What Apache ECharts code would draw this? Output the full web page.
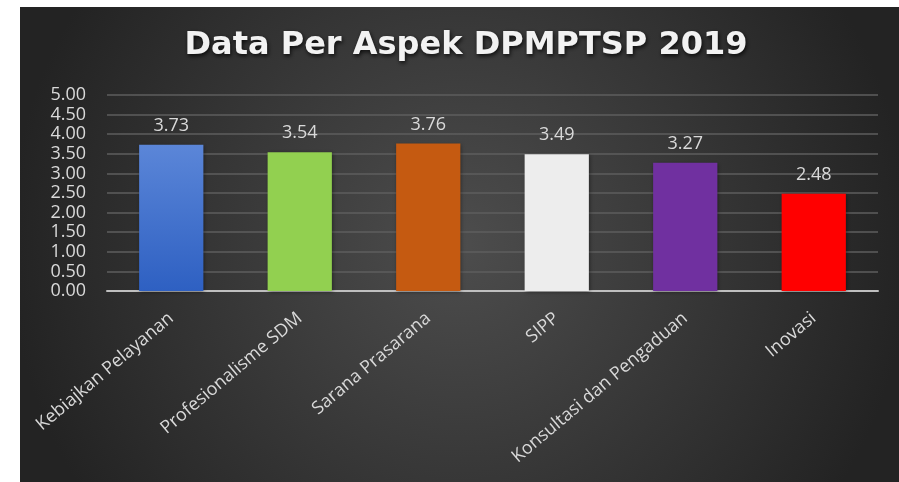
<!DOCTYPE html>
<html>
<head>
<meta charset="utf-8">
<script src="https://cdn.jsdelivr.net/npm/echarts@6/dist/echarts.min.js"></script>
<style>html,body{margin:0;padding:0;background:#fff;}#c{width:899px;height:482px;}</style>
</head>
<body>
<div id="c"></div>
<script>
const categories = ['Kebiajkan Pelayanan', 'Profesionalisme SDM', 'Sarana Prasarana', 'SIPP', 'Konsultasi dan Pengaduan', 'Inovasi'];
const values = [3.73, 3.54, 3.76, 3.49, 3.27, 2.48];
const barColors = [
  {type:'linear', x:0, y:0, x2:0, y2:1, colorStops:[{offset:0,color:'#5b86d8'},{offset:1,color:'#2e60c2'}]},
  '#92d050', '#c55a11', '#ededed', '#7030a0', '#ff0000'
];
const titleText = 'Data Per Aspek DPMPTSP 2019';

const chart = echarts.init(document.getElementById('c'));
chart.setOption({
  backgroundColor: '#ffffff',
  graphic: [{
    type: 'rect', left: 20, top: 7, z: -10,
    shape: {width: 879, height: 475},
    style: {fill: {type:'radial', x:0.5, y:0.5, r:0.95, colorStops:[{offset:0,color:'#4d4d4d'},{offset:1,color:'#232323'}]}}
  }],
  title: {
    text: titleText, left: 461, top: 25, textAlign: 'center',
    textStyle: {color:'#f2f2f2', fontFamily:'DejaVu Sans', fontWeight:'bold', fontSize:32,
      textShadowColor:'rgba(0,0,0,0.8)', textShadowBlur:4, textShadowOffsetX:1, textShadowOffsetY:2}
  },
  grid: {left: 107, right: 21, top: 95, height: 196, containLabel: false},
  xAxis: {
    type: 'category', data: categories,
    axisLine: {lineStyle: {color:'#bfbfbf', width:2}},
    axisTick: {show:false},
    axisLabel: {rotate: 40, color:'#d9d9d9', fontFamily:'Open Sans', fontSize:18, margin:25, interval:0}
  },
  yAxis: {
    type: 'value', min: 0, max: 5, interval: 0.5,
    axisLine: {show:false}, axisTick: {show:false},
    axisLabel: {color:'#d9d9d9', fontFamily:'Open Sans', fontSize:18, margin:21, formatter: v => v.toFixed(2)},
    splitLine: {lineStyle: {color:'#5e5e5e', width:1.5}}
  },
  series: [{
    type: 'bar', data: values.map((v,i)=>({value:v, itemStyle:{color:barColors[i]}})),
    barWidth: '50%',
    itemStyle: {shadowColor:'rgba(0,0,0,0.4)', shadowBlur:4, shadowOffsetX:1, shadowOffsetY:1},
    label: {show:true, position:'top', distance:10, color:'#d9d9d9', fontFamily:'Open Sans', fontSize:18, formatter: p => p.value.toFixed(2)}
  }],
  animation: false
});
</script>
</body>
</html>
